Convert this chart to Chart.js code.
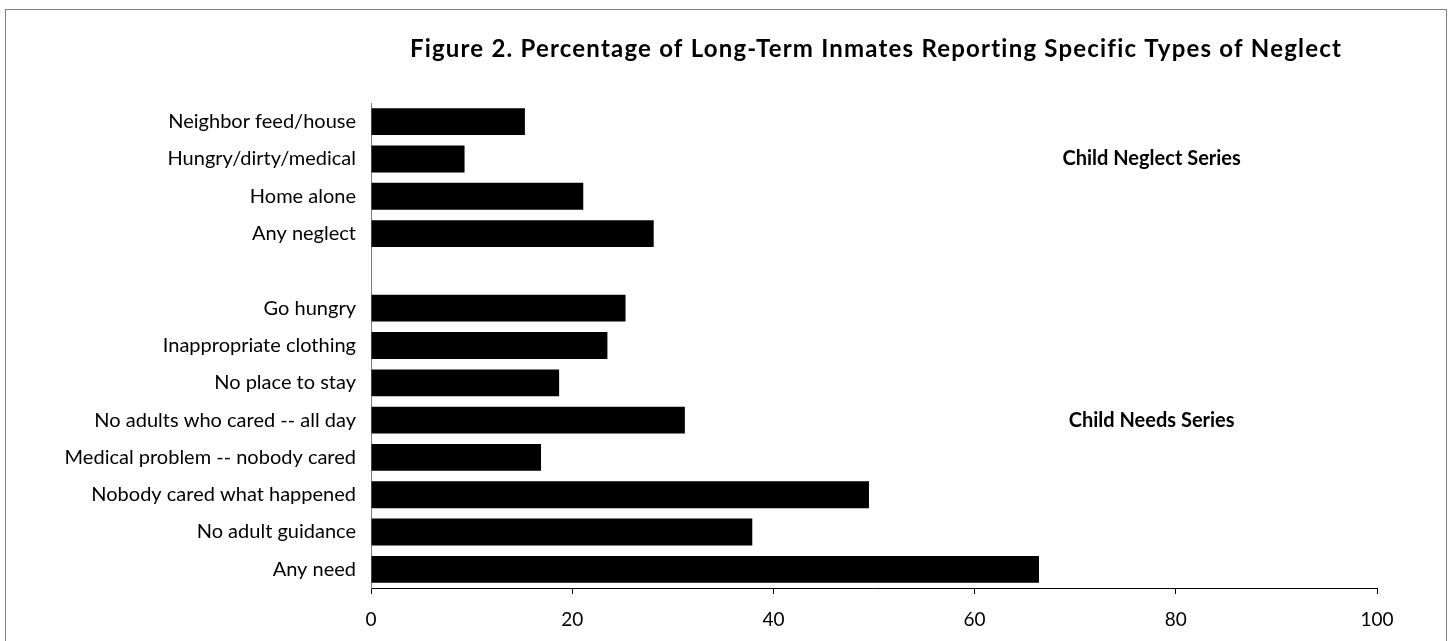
<!DOCTYPE html>
<html>
<head>
<meta charset="utf-8">
<script src="https://cdn.jsdelivr.net/npm/chart.js@4"></script>
<style>
 body { margin: 0; background: #fff; }
 #wrap { position: relative; width: 1449px; height: 641px; overflow: hidden; }
 #frame { position: absolute; left: 5px; top: 9px; width: 1440px; height: 700px; border: 1px solid #808080; pointer-events: none; }
</style>
</head>
<body>
<div id="wrap">
 <canvas id="neglectChart" width="1449" height="641"></canvas>
 <div id="frame"></div>
</div>
<script>
const chartTitle = "Figure 2. Percentage of Long-Term Inmates Reporting Specific Types of Neglect"

const categories = [
 "Neighbor feed/house",
 "Hungry/dirty/medical",
 "Home alone",
 "Any neglect",
 "",
 "Go hungry",
 "Inappropriate clothing",
 "No place to stay",
 "No adults who cared -- all day",
 "Medical problem -- nobody cared",
 "Nobody cared what happened",
 "No adult guidance",
 "Any need"
]

const percentages = [15.3, 9.3, 21.1, 28.1, null, 25.3, 23.5, 18.7, 31.2, 16.9, 49.5, 37.9, 66.4]

const xTicks = [0, 20, 40, 60, 80, 100]

// series captions and the row each one sits beside
const seriesNotes = ["Child Neglect Series", "Child Needs Series"]
const noteRows = ["Hungry/dirty/medical", "No adults who cared -- all day"]

const FONT = "Lato"

const overlayText = {
 id: "overlayText",
 afterDraw(chart) {
  const ctx = chart.ctx
  const area = chart.chartArea
  const x = chart.scales.x
  const y = chart.scales.y
  ctx.save()
  ctx.fillStyle = "#000"
  ctx.textAlign = "center"
  ctx.textBaseline = "middle"
  ctx.font = "bold 24px " + FONT
  ctx.letterSpacing = "1.2px"
  ctx.fillText(chartTitle, (area.left + area.right) / 2 + 2, 49)
  ctx.letterSpacing = "0px"
  ctx.font = "bold 20px " + FONT
  seriesNotes.forEach((note, i) => {
   const row = categories.indexOf(noteRows[i])
   ctx.fillText(note, x.getPixelForValue(77.6), y.getPixelForValue(row))
  })
  ctx.restore()
 }
}

const chart = new Chart(document.getElementById("neglectChart"), {
 type: "bar",
 data: {
  labels: categories,
  datasets: [{
   data: percentages,
   backgroundColor: "#000",
   borderWidth: 0,
   barPercentage: 0.72,
   categoryPercentage: 1
  }]
 },
 options: {
  indexAxis: "y",
  responsive: false,
  animation: false,
  layout: { padding: { left: 0, right: 72, top: 103, bottom: 0 } },
  plugins: {
   legend: { display: false },
   tooltip: { enabled: false }
  },
  scales: {
   x: {
    min: 0,
    max: 100,
    afterBuildTicks: s => { s.ticks = xTicks.map(v => ({ value: v })) },
    afterFit: s => { s.height = 53 },
    grid: { drawOnChartArea: false, drawTicks: true, tickLength: 6, color: "#000" },
    border: { color: "#000", width: 1 },
    ticks: { color: "#000", padding: 14, font: { family: FONT, size: 19 } }
   },
   y: {
    afterFit: s => { s.width = 371 },
    grid: { display: false, drawTicks: false },
    border: { color: "#808080", width: 1 },
    ticks: { color: "#000", padding: 15, autoSkip: false, font: { family: FONT, size: 20 } }
   }
  }
 },
 plugins: [overlayText]
})
</script>
</body>
</html>
